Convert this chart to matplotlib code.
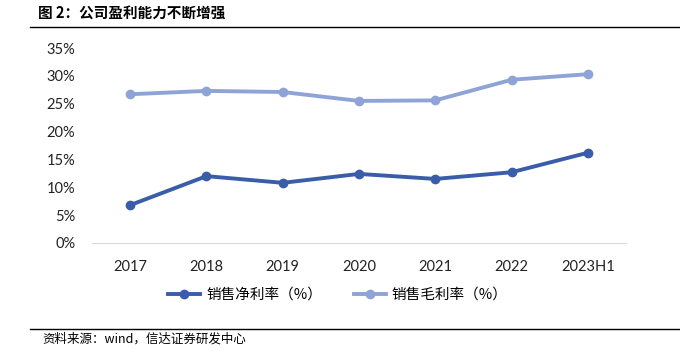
import matplotlib
matplotlib.use('agg')
import matplotlib.pyplot as plt
from matplotlib.ticker import PercentFormatter

plt.rcParams['font.family'] = ['Lato', 'Noto Sans CJK SC', 'DejaVu Sans']

years = ["2017", "2018", "2019", "2020", "2021", "2022", "2023H1"]
net_margin = [6.8, 12.0, 10.8, 12.4, 11.5, 12.7, 16.2]
gross_margin = [26.7, 27.3, 27.1, 25.5, 25.6, 29.3, 30.3]

dark = "#3A5DAA"
light = "#8FA4D6"

fig = plt.figure(figsize=(6.8, 3.55), dpi=100)
ax = fig.add_axes([92 / 680, 1 - 243 / 355, 534 / 680, 195 / 355])

x = list(range(len(years)))
ax.plot(x, net_margin, color=dark, lw=2.8, marker='o', ms=6, label="销售净利率（%）")
ax.plot(x, gross_margin, color=light, lw=2.8, marker='o', ms=6, label="销售毛利率（%）")

ax.set_ylim(0, 35)
ax.set_xlim(-0.5, len(years) - 0.5)
ax.set_yticks(range(0, 36, 5))
ax.yaxis.set_major_formatter(PercentFormatter(decimals=0))
ax.set_xticks(x)
ax.set_xticklabels(years)
ax.tick_params(axis='both', length=0, labelsize=10.5, colors='#222222')
ax.tick_params(axis='x', pad=12)
ax.tick_params(axis='y', pad=12)
for s in ['top', 'right', 'left']:
    ax.spines[s].set_visible(False)
ax.spines['bottom'].set_color('#d9d9d9')

ax.legend(loc='center', bbox_to_anchor=(338 / 680, 1 - 295 / 355), bbox_transform=fig.transFigure,
          ncol=2, frameon=False, handlelength=2.2, handletextpad=0.4, columnspacing=2.2,
          prop={'family': ['Noto Sans CJK SC', 'DejaVu Sans'], 'size': 10.5})

fig.text(38 / 680, 1 - 13 / 355, "图 2：公司盈利能力不断增强", fontsize=10.5, fontweight='bold',
         va='center', ha='left', family=['Noto Sans CJK SC', 'DejaVu Sans'])
fig.add_artist(plt.Line2D([30 / 680, 1], [1 - 27 / 355] * 2, color='black', lw=1))
fig.add_artist(plt.Line2D([30 / 680, 1], [1 - 329 / 355] * 2, color='black', lw=1))
fig.text(42 / 680, 1 - 339 / 355, "资料来源：wind，信达证券研发中心", fontsize=9, style='italic',
         va='center', ha='left', family=['Noto Sans CJK SC', 'DejaVu Sans'])

fig.savefig("out.png", dpi=100)
